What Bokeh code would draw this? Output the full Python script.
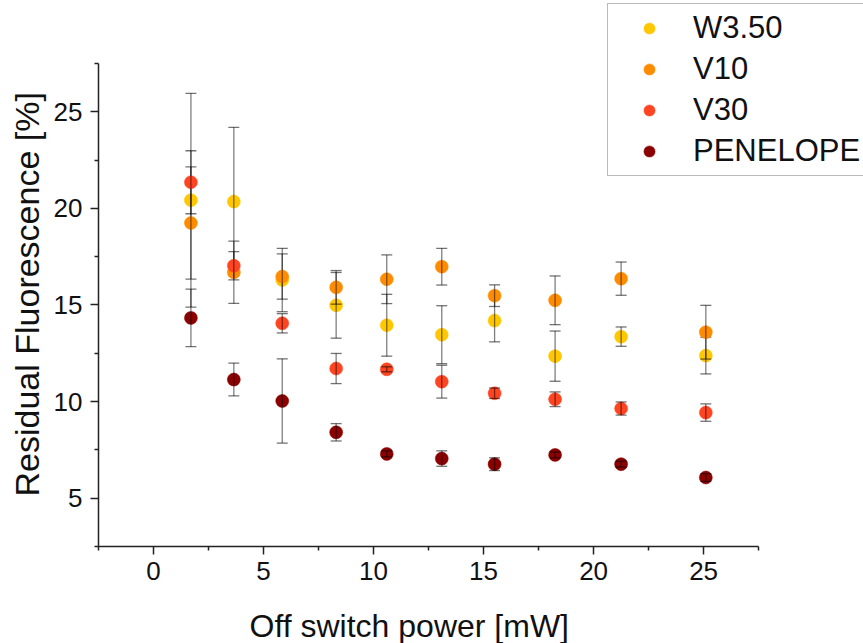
from bokeh.plotting import figure
from bokeh.models import Range1d, FixedTicker, Legend, LegendItem, ColumnDataSource, Title
from bokeh.embed import file_html
from bokeh.resources import INLINE

# ---------------- data ----------------
power_mw = [1.7, 3.65, 5.85, 8.3, 10.6, 13.1, 15.5, 18.25, 21.25, 25.1]

series_names = ["W3.50", "V10", "V30", "PENELOPE"]

w350 = [20.42, 20.35, 16.29, 14.98, 13.95, 13.46, 14.19, 12.35, 13.36, 12.38]
w350_err = [5.53, 3.84, 1.64, 1.70, 1.60, 1.50, 1.10, 1.30, 0.50, 0.95]

v10 = [19.24, 16.69, 16.47, 15.91, 16.33, 16.98, 15.48, 15.24, 16.36, 13.59]
v10_err = [2.90, 1.61, 1.17, 0.87, 1.26, 0.95, 0.56, 1.26, 0.86, 1.39]

v30 = [21.35, 17.03, 14.05, 11.71, 11.67, 11.03, 10.43, 10.12, 9.64, 9.43]
v30_err = [1.63, 0.73, 0.50, 0.78, 0.13, 0.85, 0.27, 0.38, 0.34, 0.45]

penelope = [14.33, 11.14, 10.03, 8.41, 7.29, 7.05, 6.76, 7.24, 6.76, 6.07]
penelope_err = [1.49, 0.85, 2.18, 0.45, 0.15, 0.40, 0.33, 0.15, 0.15, 0.20]

x_major_ticks = [0, 5, 10, 15, 20, 25]
y_major_ticks = [5, 10, 15, 20, 25]
x_label = "Off switch power [mW]"
y_label = "Residual Fluorescence [%]"

colors = ["#FFC700", "#FF8C00", "#FF4422", "#8B0000"]

FONT = "Liberation Sans"

# axis extents (data units) and frame geometry
X_AXIS = (-2.5, 27.5)
Y_AXIS = (2.5, 27.5)
FRAME_LEFT, FRAME_BOTTOM = 97, 547
AXIS_RIGHT_PX, AXIS_TOP_PX = 758, 63
W, H = 863, 643

# frame extends to canvas top/right so the legend can sit over it
x_scale = (AXIS_RIGHT_PX - FRAME_LEFT) / (X_AXIS[1] - X_AXIS[0])
y_scale = (FRAME_BOTTOM - AXIS_TOP_PX) / (Y_AXIS[1] - Y_AXIS[0])
x_end = X_AXIS[0] + (W - FRAME_LEFT) / x_scale
y_end = Y_AXIS[0] + FRAME_BOTTOM / y_scale

# ---------------- figure ----------------
p = figure(width=W, height=H, output_backend="svg", toolbar_location=None,
           x_range=Range1d(X_AXIS[0], x_end), y_range=Range1d(Y_AXIS[0], y_end),
           min_border_left=FRAME_LEFT, min_border_right=0,
           min_border_top=0, min_border_bottom=H - FRAME_BOTTOM)
p.outline_line_color = None
p.grid.visible = False
p.background_fill_color = "white"
p.border_fill_color = "white"

x_minor = [t - 2.5 for t in x_major_ticks] + [x_major_ticks[-1] + 2.5]
y_minor = [t - 2.5 for t in y_major_ticks] + [y_major_ticks[-1] + 2.5]
p.xaxis.ticker = FixedTicker(ticks=x_major_ticks, minor_ticks=x_minor)
p.yaxis.ticker = FixedTicker(ticks=y_major_ticks, minor_ticks=y_minor)
p.xaxis.bounds = X_AXIS
p.yaxis.bounds = Y_AXIS

for ax in (p.xaxis, p.yaxis):
    ax.axis_line_width = 1.5
    ax.axis_line_color = "#222222"
    ax.major_tick_line_color = "#222222"
    ax.minor_tick_line_color = "#222222"
    ax.major_tick_line_width = 1.5
    ax.minor_tick_line_width = 1.5
    ax.major_tick_out = 8
    ax.major_tick_in = 0
    ax.minor_tick_out = 4
    ax.minor_tick_in = 0
    ax.major_label_text_font = FONT
    ax.major_label_text_font_size = "26px"
    ax.major_label_text_color = "#111111"

p.xaxis.major_label_standoff = 7
p.yaxis.major_label_standoff = 8

# spacer between tick labels and x title
spacer = Title(text="\u00a0", text_font_size="10px", standoff=10, text_color="white")
p.add_layout(spacer, "below")
# axis titles as panel titles for precise placement
xt = Title(text=x_label, align="left", offset=151, standoff=0,
           vertical_align="bottom",
           text_font=FONT, text_font_size="32px", text_font_style="normal",
           text_color="#111111")
p.add_layout(xt, "below")
yt = Title(text=y_label, align="left", offset=50, standoff=10,
           text_font=FONT, text_font_size="34px", text_font_style="normal",
           text_color="#111111")
p.add_layout(yt, "left")

# ---------------- data marks ----------------
all_vals = [w350, v10, v30, penelope]
all_errs = [w350_err, v10_err, v30_err, penelope_err]
items = []
for name, vals, errs, col in zip(series_names, all_vals, all_errs, colors):
    src = ColumnDataSource(dict(
        x=power_mw, y=vals,
        lo=[v - e for v, e in zip(vals, errs)],
        hi=[v + e for v, e in zip(vals, errs)],
    ))
    r = p.scatter("x", "y", source=src, size=13, fill_color=col, line_color=col,
                  line_width=0.5)
    p.segment(x0="x", y0="lo", x1="x", y1="hi", source=src,
              line_color="black", line_alpha=0.5, line_width=1.3)
    p.scatter("x", "lo", source=src, marker="dash", size=11,
              line_color="black", line_alpha=0.55, line_width=1.3)
    p.scatter("x", "hi", source=src, marker="dash", size=11,
              line_color="black", line_alpha=0.55, line_width=1.3)
    items.append(LegendItem(label=name, renderers=[r]))

legend = Legend(items=items, location=(509, 370),
                border_line_color="#777777", border_line_width=1,
                background_fill_color="white", background_fill_alpha=1,
                label_text_font=FONT, label_text_font_size="31px",
                label_text_color="#111111",
                glyph_width=70, glyph_height=28, label_height=36,
                spacing=5, padding=6, label_standoff=9, margin=0)
p.add_layout(legend)

open("out.html", "w").write(file_html(p, INLINE))
